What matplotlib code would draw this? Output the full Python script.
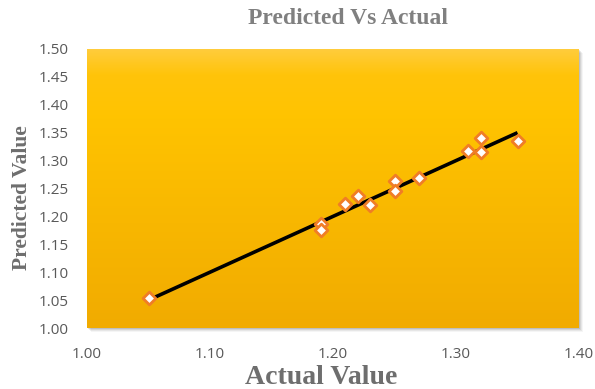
import numpy as np
import matplotlib
matplotlib.use("Agg")
import matplotlib.pyplot as plt
from matplotlib.colors import LinearSegmentedColormap
from matplotlib.patches import Rectangle

# Observed vs model-predicted values
actual = [1.05, 1.19, 1.19, 1.21, 1.22, 1.23, 1.25, 1.25, 1.27, 1.31, 1.32, 1.32, 1.35]
predicted = [1.053, 1.187, 1.176, 1.223, 1.237, 1.220, 1.263, 1.246, 1.269, 1.318, 1.341, 1.315, 1.336]

x_ticks = [1.00, 1.10, 1.20, 1.30, 1.40]
y_ticks = [1.00, 1.05, 1.10, 1.15, 1.20, 1.25, 1.30, 1.35, 1.40, 1.45, 1.50]

W, H = 595, 389
fig = plt.figure(figsize=(W / 100, H / 100), dpi=100)
fig.patch.set_facecolor("white")

left, right, top, bottom = 87, 579, 49, 328
ax = fig.add_axes([left / W, 1 - bottom / H, (right - left) / W, (bottom - top) / H])

# soft drop shadow behind the plot area
for i, a in enumerate([0.10, 0.08, 0.06, 0.04]):
    off = (i + 1) * 1.0
    fig.patches.append(Rectangle(((left + off) / W, 1 - (bottom + off) / H),
                                 (right - left) / W, (bottom - top) / H,
                                 transform=fig.transFigure, facecolor="#000000",
                                 alpha=a, edgecolor="none", zorder=-5))

# vertical gold gradient fill, lighter at the top
cmap = LinearSegmentedColormap.from_list(
    "gold", [(0.0, "#FFCC3C"), (0.09, "#FFC40A"), (0.25, "#FFC300"), (1.0, "#F1AB00")])
grad = np.linspace(0, 1, 256).reshape(-1, 1)
ax.imshow(grad, cmap=cmap, aspect="auto", extent=[1.0, 1.4, 1.0, 1.5],
          origin="upper", zorder=0)
ax.set_xlim(1.0, 1.4)
ax.set_ylim(1.0, 1.5)

# ideal agreement line across the observed range
lo, hi = min(actual), max(actual)
ax.plot([lo, hi], [lo, hi], color="black", lw=2.6, zorder=3, solid_capstyle="butt")

ax.scatter(actual, predicted, marker="D", s=42, facecolor="white",
           edgecolor="#F07D26", linewidths=2.0, zorder=4)

for s in ax.spines.values():
    s.set_visible(False)
ax.set_xticks(x_ticks)
ax.set_yticks(y_ticks)
ax.set_xticklabels([f"{v:.2f}" for v in x_ticks])
ax.set_yticklabels([f"{v:.2f}" for v in y_ticks])
ax.tick_params(length=0, labelsize=11, labelcolor="#595959")
ax.tick_params(axis="x", pad=14)
ax.tick_params(axis="y", pad=13)
for lab in ax.get_xticklabels() + ax.get_yticklabels():
    lab.set_fontfamily("Open Sans")

fig.text(348 / W, 1 - 18 / H, "Predicted Vs Actual", ha="center", va="center",
         fontsize=17, fontweight="bold", family="Liberation Serif", color="#808080")
fig.text(321 / W, 1 - 378 / H, "Actual Value", ha="center", va="center",
         fontsize=20, fontweight="bold", family="Liberation Serif", color="#6E6E6E")
fig.text(22 / W, 1 - 198 / H, "Predicted Value", ha="center", va="center", rotation=90,
         fontsize=15.5, fontweight="bold", family="Liberation Serif", color="#6E6E6E")

fig.savefig("out.png", dpi=100)
